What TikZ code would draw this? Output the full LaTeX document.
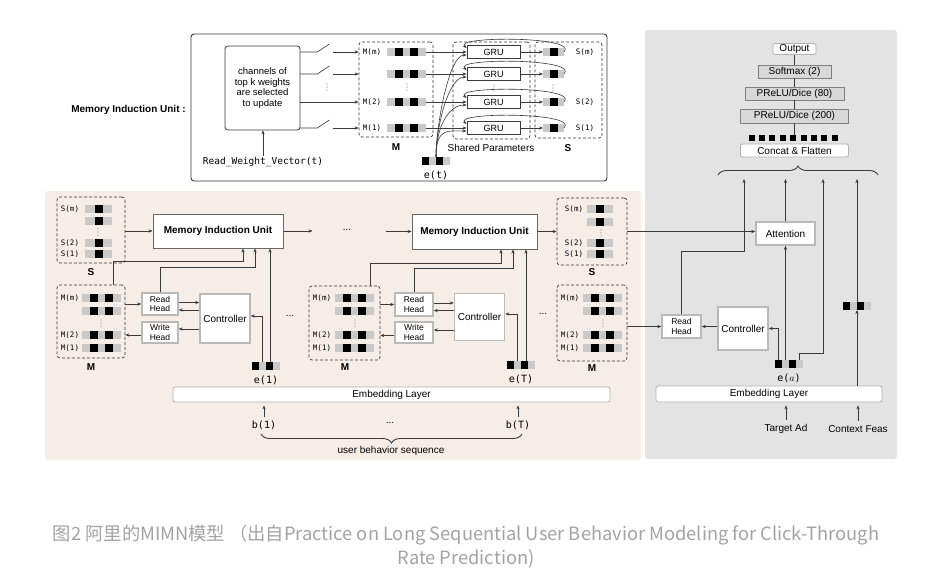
\documentclass[tikz,border=0pt]{standalone}
\usepackage{fontspec}
\setmainfont{Liberation Sans}
\setmonofont{DejaVu Sans Mono}
\newfontfamily\cjkfont{Noto Sans CJK SC}
\usetikzlibrary{arrows.meta,decorations.pathreplacing}
\definecolor{linec}{HTML}{3A3A3A}
\definecolor{barg}{HTML}{C9C9C9}
\definecolor{beige}{HTML}{F6EDE7}
\definecolor{panelg}{HTML}{E3E3E3}
\definecolor{layerg}{HTML}{D8D8D8}
\definecolor{capg}{HTML}{A3A3A3}
\newcommand{\mslot}[3]{%
  \node[slotbar, minimum width=39pt] (#1) at (#2,#3) {};
  \fill[black] ([xshift=8pt]#1.north west) rectangle ++(8,8);
  \fill[black] ([xshift=23pt]#1.north west) rectangle ++(8,8);}
\newcommand{\sslot}[4]{%
  \node[slotbar, minimum width=#4pt] (#1) at (#2,#3) {};
  \fill[black] ([xshift=-4pt]#1.north) rectangle ++(8,8);}
\newcommand{\evec}[3]{%
  \node[slotbar, anchor=center, minimum width=28pt] (#1) at (#2,#3) {};
  \fill[black] (#1.north west) rectangle ++(7,8);
  \fill[black] ([xshift=14pt]#1.north west) rectangle ++(7,8);}
\newcommand{\vdotsat}[2]{%
  \foreach \k in {-3,0,3} {\fill[gray] (#1,{#2+\k}) circle (0.7pt);}}
\begin{document}
\begin{tikzpicture}[x=1pt, y=-1pt, >={Stealth[length=4pt,width=3.2pt]}, line width=0.6pt, color=linec, text=black,
  font=\fontsize{10}{12}\selectfont,
  slotbar/.style={fill=barg, inner sep=0pt, outer sep=0pt, minimum height=8pt, anchor=west},
  dbox/.style={draw, dash pattern=on 3pt off 2pt, line width=0.7pt, rounded corners=3pt, inner sep=0pt},
  slot/.style={font=\ttfamily\fontsize{7.5}{9}\selectfont, inner sep=0pt},
  vec/.style={font=\ttfamily\fontsize{10}{12}\selectfont, inner sep=1pt},
  bname/.style={font=\bfseries\fontsize{10}{12}\selectfont, inner sep=0pt},
  miu/.style={draw=gray!80!black, line width=1pt, fill=white, font=\bfseries\fontsize{10}{12}\selectfont},
  head/.style={draw=gray!55, line width=1.5pt, fill=white, align=center, inner sep=0pt, font=\fontsize{8.5}{9.5}\selectfont},
  ctrl/.style={draw=gray!55, line width=1.5pt, fill=white, inner sep=0pt},
  gru/.style={draw, line width=0.8pt, fill=white, inner sep=0pt, minimum width=53pt, minimum height=13pt, font=\fontsize{9}{10}\selectfont},
  layer/.style={draw=gray, fill=layerg, inner sep=0pt},
  wbar/.style={draw=gray!60, line width=0.8pt, fill=white, rounded corners=2pt, inner sep=0pt}]
\useasboundingbox (0,0) rectangle (938,586);
\fill[white] (0,0) rectangle (938,586);
\fill[beige, rounded corners=3pt] (45,191) rectangle (641,460);
\fill[panelg, rounded corners=3pt] (645,30) rectangle (897,459);

\node[draw, line width=0.9pt, rounded corners=3pt, minimum width=416pt, minimum height=147pt] (mbox) at (399,107.5) {};
\node[bname, anchor=east] (mlbl) at (186,110) {Memory Induction Unit :};
\node[draw, line width=0.8pt, rounded corners=3pt, minimum width=75pt, minimum height=84pt, align=center, font=\fontsize{9.5}{10.5}\selectfont] (chan) at (262.5,88) {channels of\\top k weights\\are selected\\to update};
\node[font=\ttfamily\fontsize{9.5}{11}\selectfont, inner sep=1pt] (rwv) at (263,162) {Read\_Weight\_Vector(t)};
\draw[->] (rwv.north) -- (rwv.north |- chan.south);
\node[dbox, minimum width=74pt, minimum height=95pt] (tM) at (396,89.5) {};
\node[bname] (tMl) at (396,147) {M};
\foreach \n/\y in {4/52,3/74,2/102,1/128} {\mslot{tm\n}{387}{\y}}
\node[slot] (tml4) at (372,52) {M(m)};
\node[slot] (tml2) at (372,102) {M(2)};
\node[slot] (tml1) at (372,128) {M(1)};
\vdotsat{407}{87}
\foreach \n in {4,3,1} {
  \draw (chan.east |- tm\n) -- ++(17,0) -- ++(12,-8);
  \draw[<-] (tM.west |- tm\n) -- ++(-26,0);
}
\draw[->] (chan.east |- tm2) -- (tM.west |- tm2);
\vdotsat{327}{87}
\node[dbox, minimum width=77pt, minimum height=97pt] (shp) at (491.5,90.5) {};
\node (shpl) at (491,148) {Shared Parameters};
\foreach \n/\y in {4/52,3/74,2/102,1/128} {\node[gru] (gru\n) at (493.5,\y) {GRU};}
\vdotsat{494}{88}
\node[dbox, minimum width=67pt, minimum height=96pt] (tS) at (568.5,90) {};
\node[bname] (tSl) at (568,148) {S};
\foreach \n/\y in {4/52,3/74,2/102,1/128} {\sslot{ts\n}{543}{\y}{21}}
\node[slot] (tsl4) at (585,52) {S(m)};
\node[slot] (tsl2) at (585,102) {S(2)};
\node[slot] (tsl1) at (585,128) {S(1)};
\vdotsat{553}{88}
\evec{et}{436}{161}
\node[vec] (etl) at (436,175) {e(t)};
\foreach \n in {4,3,2,1} {
  \draw[->] (tm\n.east) -- (gru\n.west);
  \draw[->] (gru\n.east) -- (ts\n.west);
  \draw[->] (ts\n.east) .. controls +(16,-16) and +(-14,-12) .. ([yshift=4pt]gru\n.west);
  \draw[->] (et.north) .. controls +(0,-30) and +(-18,0) .. ([yshift=-3pt]gru\n.west);
}

\node[dbox, minimum width=68pt, minimum height=66pt] (sA) at (91,230) {};
\node[bname] (sAl) at (91,272) {S};
\foreach \n/\y in {4/209,3/221,2/243,1/254} {\sslot{sa\n}{85}{\y}{27}}
\node[slot] (sal4) at (70,209) {S(m)};
\node[slot] (sal2) at (70,243) {S(2)};
\node[slot] (sal1) at (70,254) {S(1)};
\vdotsat{98}{232}
\node[dbox, minimum width=68pt, minimum height=73pt] (mA) at (91,321.5) {};
\node[bname] (mAl) at (91,367) {M};
\foreach \n/\y in {4/298,3/311,2/335,1/348} {\mslot{ma\n}{82}{\y}}
\node[slot] (mal4) at (70,298) {M(m)};
\node[slot] (mal2) at (70,335) {M(2)};
\node[slot] (mal1) at (70,348) {M(1)};
\vdotsat{101}{323}
\node[miu, minimum width=130pt, minimum height=34pt] (miuA) at (218,231) {Memory Induction Unit};
\node[head, minimum width=36pt, minimum height=22pt] (rhA) at (160,304) {Read\\Head};
\node[head, minimum width=36pt, minimum height=21pt] (whA) at (160,332.5) {Write\\Head};
\node[ctrl, minimum width=50pt, minimum height=49pt] (ctA) at (225,318.5) {Controller};
\evec{eA}{266}{366}
\node[vec] (eAl) at (266,380) {e(1)};

\node[miu, minimum width=125pt, minimum height=35pt] (miuB) at (474.5,231.5) {Memory Induction Unit};
\node (dotsA) at (347,230) {...};
\node (dotsB) at (290,316) {...};
\node (dotsC) at (543,314) {...};
\node[dbox, minimum width=71pt, minimum height=74pt] (mB) at (344.5,323) {};
\node[bname] (mBl) at (345,367) {M};
\foreach \n/\y in {4/298,3/311,2/335,1/348} {\mslot{mb\n}{335}{\y}}
\node[slot] (mbl4) at (322,298) {M(m)};
\node[slot] (mbl2) at (322,335) {M(2)};
\node[slot] (mbl1) at (322,348) {M(1)};
\vdotsat{355}{323}
\node[head, minimum width=38pt, minimum height=23pt] (rhB) at (414,304.5) {Read\\Head};
\node[head, minimum width=38pt, minimum height=21pt] (whB) at (414,332.5) {Write\\Head};
\node[ctrl, minimum width=50pt, minimum height=47pt] (ctB) at (479.5,317) {Controller};
\evec{eB}{521}{365}
\node[vec] (eBl) at (521,379) {e(T)};

\node[dbox, minimum width=70pt, minimum height=67pt] (sC) at (592,231.5) {};
\node[bname] (sCl) at (592,272) {S};
\foreach \n/\y in {4/209,3/222,2/243,1/254} {\sslot{sc\n}{587}{\y}{26}}
\node[slot] (scl4) at (574,209) {S(m)};
\node[slot] (scl2) at (574,243) {S(2)};
\node[slot] (scl1) at (574,254) {S(1)};
\vdotsat{601}{233}
\node[dbox, minimum width=70pt, minimum height=76pt] (mC) at (592,323) {};
\node[bname] (mCl) at (592,368) {M};
\foreach \n/\y in {4/298,3/311,2/335,1/348} {\mslot{mc\n}{583}{\y}}
\node[slot] (mcl4) at (570,298) {M(m)};
\node[slot] (mcl2) at (570,335) {M(2)};
\node[slot] (mcl1) at (570,348) {M(1)};
\vdotsat{603}{323}

\node[wbar, minimum width=437pt, minimum height=15pt] (embA) at (391.5,394.5) {Embedding Layer};
\node[vec] (bA) at (264,425) {b(1)};
\node[vec] (bB) at (518,425) {b(T)};
\node (bdots) at (390,423) {...};
\coordinate (ubR) at (522,434);
\coordinate (ubL) at (261,434);
\draw[decorate, decoration={brace, amplitude=9pt}, line width=0.9pt] (ubR) -- (ubL);
\node (ubs) at (391,451) {user behavior sequence};
\draw[->, shorten >=3pt] ([yshift=2pt]bA.north) -- (bA.north |- embA.south);
\draw[->, shorten >=3pt] ([yshift=2pt]bB.north) -- (bB.north |- embA.south);

\draw[->] (sA.east |- miuA.west) -- (miuA.west);
\draw[->] (miuA.east) -- ++(29,0);
\draw[<-] (miuB.west) -- ++(-26,0);
\draw[->] (miuB.east) -- (sC.west |- miuB.east);
\draw[->] (mA.east |- rhA.west) -- (rhA.west);
\draw[->] ([yshift=1.5pt]rhA.east) -- ([yshift=1.5pt]rhA.east -| ctA.west);
\draw[->] ([yshift=-6pt]rhA.east -| ctA.west) -- ([yshift=-6pt]rhA.east);
\draw[->] ([yshift=3.5pt]whA.east -| ctA.west) -- ([yshift=3.5pt]whA.east);
\draw[->] ([yshift=-2.5pt]whA.west) -- ([yshift=-2.5pt]whA.west -| mA.east);
\draw[->] ([xshift=22pt]mA.north) -- ++(0,-23) -| ([xshift=25pt]miuA.south);
\draw[->] (rhA.north) -- ++(0,-25) -| ([xshift=37pt]miuA.south);
\draw[->] ([xshift=4pt]eA.north) -- ([xshift=4pt]eA.north |- miuA.south);
\draw[->] ([xshift=-4pt]eA.north) |- ([yshift=2.5pt]ctA.east);
\draw[->] (mB.east |- rhB.west) -- (rhB.west);
\draw[->] ([yshift=1.5pt]rhB.east) -- ([yshift=1.5pt]rhB.east -| ctB.west);
\draw[->] ([yshift=-6pt]rhB.east -| ctB.west) -- ([yshift=-6pt]rhB.east);
\draw[->] ([yshift=2.5pt]whB.east -| ctB.west) -- ([yshift=2.5pt]whB.east);
\draw[->] ([yshift=-3pt]whB.west) -- ([yshift=-3pt]whB.west -| mB.east);
\draw[->] ([xshift=25.5pt]mB.north) -- ++(0,-22) -| ([xshift=26.5pt]miuB.south);
\draw[->] (rhB.north) -- ++(0,-24) -| ([xshift=38.5pt]miuB.south);
\draw[->] ([xshift=5pt]eB.north) -- ([xshift=5pt]eB.north |- miuB.south);
\draw[->] ([xshift=-4pt]eB.north) |- ([yshift=3pt]ctB.east);

\node[wbar, minimum width=43pt, minimum height=11pt, font=\fontsize{10}{11}\selectfont] (out) at (794.5,49) {Output};
\node[layer, minimum width=73pt, minimum height=13pt] (smax) at (794.5,71.5) {Softmax (2)};
\node[layer, minimum width=99pt, minimum height=13pt] (p80) at (794.5,93.5) {PReLU/Dice (80)};
\node[layer, minimum width=108pt, minimum height=14pt] (p200) at (794.5,116) {PReLU/Dice (200)};
\foreach \i in {0,...,8} {\fill[black] ({748.5+10.4*\i},135) rectangle ++(6,6);}
\coordinate (sq) at (794.5,135);
\draw (out) -- (smax) -- (p80) -- (p200) -- (sq);
\node[wbar, minimum width=108pt, minimum height=13pt] (cat) at (794.5,150.5) {Concat \& Flatten};
\coordinate (brL) at (718,175);
\coordinate (brR) at (878,175);
\draw[decorate, decoration={brace, amplitude=9pt}, line width=0.9pt] (brL) -- (brR);
\coordinate (in1) at (744,179);
\coordinate (in2) at (785.5,179);
\coordinate (in3) at (823,179);
\coordinate (in4) at (857,179);
\node[ctrl, minimum width=59pt, minimum height=23pt] (att) at (785.5,233.5) {Attention};
\node[head, minimum width=39pt, minimum height=23pt] (rhC) at (681.5,326.5) {Read\\Head};
\node[ctrl, minimum width=50pt, minimum height=43pt] (ctC) at (743,328.5) {Controller};
\evec{eC}{788.5}{364}
\node[vec] (eCl) at (789,378) {e($a$)};
\evec{ctx}{857}{306}
\node[wbar, minimum width=226pt, minimum height=16pt] (embC) at (769,394) {Embedding Layer};
\node[inner sep=1pt] (tad) at (786,429) {Target Ad};
\node[inner sep=1pt] (cfe) at (858,429) {Context Feas};
\draw[->] (sC.east) -- (sC.east -| att.west);
\draw[->] (att.north) -- (att.north |- in2);
\draw[->] (mC.east |- rhC.west) -- (rhC.west);
\draw[->] (ctC.west |- rhC.east) -- (rhC.east);
\draw[->] (rhC.north) -- ++(0,-63) -| (in1);
\draw[->] ([xshift=-10pt]eC.north) |- (ctC.east);
\draw[->] (eC.north -| att.south) -- (att.south);
\draw[->] ([xshift=11pt]eC.north) -- ++(0,-7) -| (in3);
\draw[->] (ctx.north) -- (in4);
\draw[->] (embC.north -| ctx.south) -- (ctx.south);
\draw[->, shorten >=3pt] ([yshift=3pt]tad.north) -- (tad.north |- embC.south);
\draw[->, shorten >=3pt] ([yshift=3pt]cfe.north) -- (cfe.north |- embC.south);

\node[font=\cjkfont\fontsize{18.3}{21}\selectfont, text=capg] (cap1) at (466,535) {图2 阿里的MIMN模型 （出自Practice on Long Sequential User Behavior Modeling for Click-Through};
\node[font=\cjkfont\fontsize{18.3}{21}\selectfont, text=capg] (cap2) at (466,559) {Rate Prediction)};
\end{tikzpicture}
\end{document}
